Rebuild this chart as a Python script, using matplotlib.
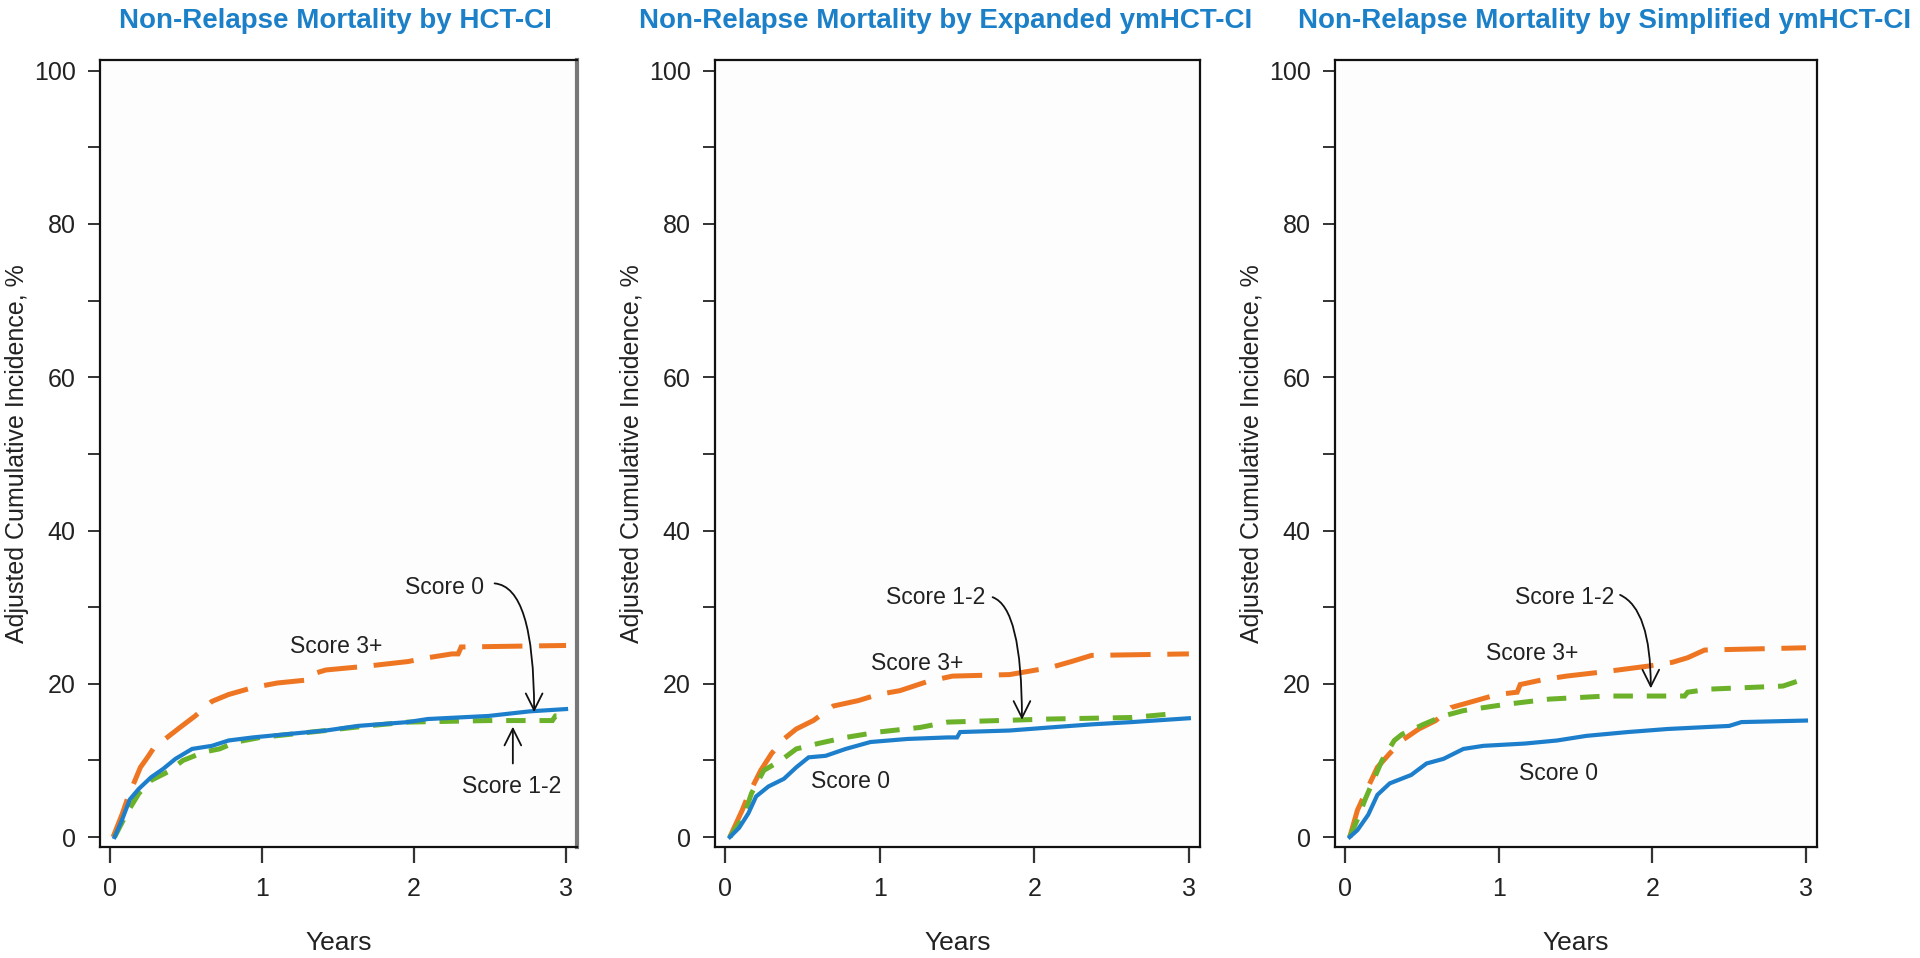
import matplotlib
matplotlib.use("Agg")
import matplotlib.pyplot as plt

plt.rcParams['font.family'] = ['Liberation Sans', 'DejaVu Sans']
plt.rcParams['lines.scale_dashes'] = False

# ---------------- data ----------------
titles = ["Non-Relapse Mortality by HCT-CI",
          "Non-Relapse Mortality by Expanded ymHCT-CI",
          "Non-Relapse Mortality by Simplified ymHCT-CI"]
xlabel = "Years"
ylabel = "Adjusted Cumulative Incidence, %"
xticks = [0, 1, 2, 3]
yticks_major = [0, 20, 40, 60, 80, 100]
yticks_minor = [10, 30, 50, 70, 90]

# Panel 1: HCT-CI
p1_t_s3 = [0.02, 0.08, 0.12, 0.2, 0.25, 0.29, 0.35, 0.46, 0.56, 0.67, 0.78, 0.94, 1.1, 1.3, 1.32, 1.42, 1.69, 1.96, 2.09, 2.25, 2.29, 2.31, 3.0]
p1_v_s3 = [0, 3.0, 5.3, 9.1, 10.5, 11.7, 12.6, 14.3, 15.8, 17.7, 18.6, 19.5, 20.1, 20.5, 21.2, 21.8, 22.3, 22.9, 23.4, 23.9, 23.9, 24.8, 25.0]
p1_t_s12 = [0.03, 0.11, 0.19, 0.27, 0.38, 0.48, 0.62, 0.72, 0.83, 0.99, 1.42, 1.69, 1.96, 2.49, 2.91, 2.93, 2.95]
p1_v_s12 = [0, 3.1, 5.7, 7.4, 8.5, 10.0, 11.1, 11.5, 12.4, 13.0, 13.9, 14.5, 15.0, 15.2, 15.2, 15.8, 15.8]
p1_t_s0 = [0.03, 0.08, 0.13, 0.19, 0.27, 0.35, 0.43, 0.54, 0.67, 0.78, 0.94, 1.15, 1.42, 1.63, 1.96, 2.09, 2.49, 2.76, 3.0]
p1_v_s0 = [0, 2.3, 4.9, 6.3, 7.8, 8.9, 10.2, 11.5, 11.9, 12.6, 13.0, 13.4, 13.9, 14.5, 15.0, 15.4, 15.8, 16.4, 16.7]

# Panel 2: Expanded ymHCT-CI
p2_t_s3 = [0.03, 0.11, 0.15, 0.23, 0.3, 0.38, 0.46, 0.57, 0.7, 0.86, 0.99, 1.13, 1.31, 1.47, 1.84, 2.1, 2.24, 2.37, 3.0]
p2_v_s3 = [0, 3.5, 5.5, 8.7, 10.9, 12.8, 14.1, 15.2, 17.1, 17.8, 18.6, 19.1, 20.3, 21.0, 21.2, 22.1, 22.9, 23.7, 23.9]
p2_t_s12 = [0.03, 0.12, 0.17, 0.25, 0.36, 0.46, 0.6, 0.78, 0.99, 1.26, 1.44, 2.1, 2.63, 2.85, 2.92]
p2_v_s12 = [0, 2.7, 5.7, 8.7, 10.0, 11.5, 12.2, 13.0, 13.7, 14.3, 15.0, 15.4, 15.6, 16.0, 16.2]
p2_t_s0 = [0.03, 0.09, 0.15, 0.2, 0.28, 0.38, 0.46, 0.54, 0.65, 0.78, 0.94, 1.18, 1.44, 1.5, 1.52, 1.84, 2.1, 2.37, 2.63, 3.0]
p2_v_s0 = [0, 1.2, 3.1, 5.3, 6.6, 7.6, 9.1, 10.4, 10.6, 11.5, 12.4, 12.8, 13.0, 13.0, 13.7, 13.9, 14.3, 14.7, 15.0, 15.5]

# Panel 3: Simplified ymHCT-CI
p3_t_s3 = [0.03, 0.08, 0.13, 0.21, 0.29, 0.37, 0.48, 0.59, 0.69, 0.85, 0.99, 1.12, 1.14, 1.28, 1.44, 1.7, 1.97, 2.13, 2.23, 2.34, 3.0]
p3_v_s3 = [0, 3.5, 5.7, 9.1, 10.9, 12.6, 14.1, 15.2, 16.9, 17.8, 18.6, 18.9, 19.9, 20.5, 21.0, 21.6, 22.3, 22.8, 23.4, 24.4, 24.7]
p3_t_s12 = [0.03, 0.08, 0.13, 0.24, 0.32, 0.37, 0.51, 0.64, 0.77, 1.04, 1.33, 1.7, 2.21, 2.23, 2.37, 2.85, 2.94]
p3_v_s12 = [0, 2.3, 4.9, 10.0, 12.6, 13.4, 14.7, 15.8, 16.5, 17.3, 18.0, 18.4, 18.4, 18.9, 19.3, 19.7, 20.3]
p3_t_s0 = [0.03, 0.08, 0.15, 0.21, 0.29, 0.43, 0.53, 0.64, 0.77, 0.9, 1.17, 1.38, 1.57, 1.84, 2.1, 2.5, 2.58, 3.0]
p3_v_s0 = [0, 0.9, 2.9, 5.5, 7.0, 8.1, 9.6, 10.2, 11.5, 11.9, 12.2, 12.6, 13.2, 13.7, 14.1, 14.5, 15.0, 15.2]

# annotation label positions (data units): (text, x, y)
p1_labels = [("Score 0", 2.20, 32.6), ("Score 3+", 1.49, 24.9), ("Score 1-2", 2.64, 6.6)]
p2_labels = [("Score 1-2", 1.36, 31.3), ("Score 3+", 1.24, 22.7), ("Score 0", 0.81, 7.2)]
p3_labels = [("Score 1-2", 1.43, 31.2), ("Score 3+", 1.22, 24.0), ("Score 0", 1.39, 8.3)]
# arrows: (start x, start y, end x, end y, connection style)
p1_arrows = [(2.53, 33.1, 2.79, 16.3, "angle3,angleA=-5,angleB=90"),
             (2.65, 9.6, 2.65, 14.4, "arc3,rad=0")]
p2_arrows = [(1.73, 31.3, 1.92, 15.3, "angle3,angleA=-20,angleB=90")]
p3_arrows = [(1.79, 31.6, 1.99, 19.4, "angle3,angleA=-25,angleB=90")]

# ---------------- style ----------------
ORANGE = "#EE7623"
GREEN = "#6BB12A"
BLUE = "#1D7FCC"
TITLE_BLUE = "#1C80C8"

W, H = 1920, 958
fig = plt.figure(figsize=(W / 100, H / 100), dpi=100)
fig.patch.set_facecolor("white")

# axes boxes in pixels: (left, right, top, bottom)
boxes = [(100, 577, 60, 847), (715, 1200, 60, 847), (1335, 1817, 60, 847)]
title_centers = [335, 946, 1605]

panels = [
    (p1_t_s3, p1_v_s3, p1_t_s12, p1_v_s12, p1_t_s0, p1_v_s0, p1_labels, p1_arrows),
    (p2_t_s3, p2_v_s3, p2_t_s12, p2_v_s12, p2_t_s0, p2_v_s0, p2_labels, p2_arrows),
    (p3_t_s3, p3_v_s3, p3_t_s12, p3_v_s12, p3_t_s0, p3_v_s0, p3_labels, p3_arrows),
]

for i, (box, panel) in enumerate(zip(boxes, panels)):
    l, r, t, b = box
    ax = fig.add_axes([l / W, (H - b) / H, (r - l) / W, (b - t) / H])
    ax.set_facecolor("#FDFDFD")
    t3, v3, t12, v12, t0, v0, labels, arrows = panel

    ax.plot(t3, v3, color=ORANGE, lw=3.6, dashes=(29, 12),
            dash_capstyle="butt", dash_joinstyle="miter")
    ax.plot(t12, v12, color=GREEN, lw=3.6, dashes=(14, 10),
            dash_capstyle="butt", dash_joinstyle="miter")
    ax.plot(t0, v0, color=BLUE, lw=3.0, solid_joinstyle="miter")

    ax.set_xlim(-0.066, 3.072)
    ax.set_ylim(-1.3, 101.4)
    ax.set_xticks(xticks)
    ax.set_xticklabels([str(v) for v in xticks])
    ax.set_yticks(yticks_major)
    ax.set_yticklabels([str(v) for v in yticks_major])
    ax.set_yticks(yticks_minor, minor=True)
    ax.tick_params(axis="x", length=11.5, width=1.6, pad=10, labelsize=18,
                   color="#333333", labelcolor="#222222")
    ax.tick_params(axis="y", which="both", length=8.5, width=1.4, pad=9, labelsize=18,
                   color="#333333", labelcolor="#222222")

    for side, sp in ax.spines.items():
        sp.set_color("#111111")
        sp.set_linewidth(1.6)
    if i == 0:
        ax.spines["right"].set_color("#777777")
        ax.spines["right"].set_linewidth(3.0)

    ax.set_xlabel(xlabel, fontsize=19, color="#222222", va="center")
    ax.xaxis.set_label_coords(0.5, -96 / (b - t))
    ax.set_ylabel(ylabel, fontsize=18, color="#222222", va="center", ha="center",
                  rotation=90)
    ax.yaxis.set_label_coords(-83 / (r - l), 0.5)

    for txt, x, y in labels:
        ax.text(x, y, txt, fontsize=16.5, color="#222222", ha="center", va="center")
    for x0, y0, x1, y1, cs in arrows:
        ax.annotate("", xy=(x1, y1), xytext=(x0, y0), xycoords="data",
                    arrowprops=dict(arrowstyle="->,head_length=1.2,head_width=0.6",
                                    connectionstyle=cs, color="#111111", lw=1.3,
                                    shrinkA=0, shrinkB=0, mutation_scale=10))

    fig.text(title_centers[i] / W, 1 - 21 / H, titles[i], fontsize=20, fontweight="bold",
             color=TITLE_BLUE, ha="center", va="center")

fig.savefig("out.png", dpi=100, facecolor="white")
